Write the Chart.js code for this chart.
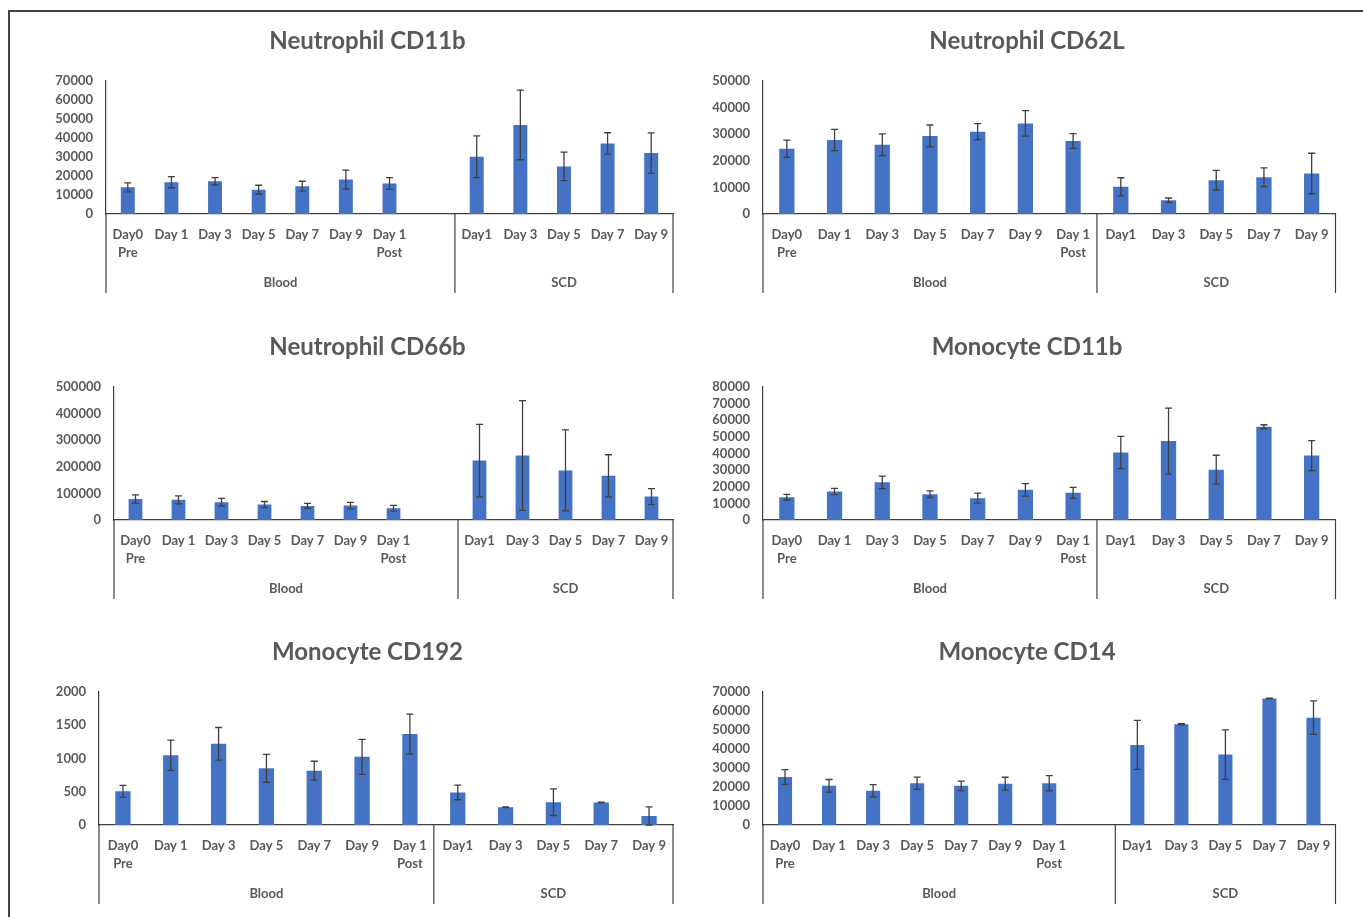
<!DOCTYPE html>
<html>
<head>
<meta charset="utf-8">
<script src="https://cdn.jsdelivr.net/npm/chart.js@4.4.1/dist/chart.umd.min.js"></script>
<style>
html, body { margin: 0; padding: 0; background: #fff; width: 1363px; height: 917px; overflow: hidden; }
#frame { position: absolute; left: 8px; top: 10px; width: 1400px; height: 1000px; border-top: 2px solid #404040; border-left: 2px solid #404040; }
canvas { position: absolute; }
</style>
</head>
<body>
<div id="frame"></div>
<canvas id="c1" width="715" height="286" style="left:10px;top:12px"></canvas>
<canvas id="c2" width="672" height="286" style="left:691px;top:12px"></canvas>
<canvas id="c3" width="715" height="286" style="left:10px;top:318px"></canvas>
<canvas id="c4" width="672" height="286" style="left:691px;top:318px"></canvas>
<canvas id="c5" width="715" height="286" style="left:10px;top:623px"></canvas>
<canvas id="c6" width="672" height="286" style="left:691px;top:623px"></canvas>
<script>
var bloodDays = [['Day0', 'Pre'], 'Day 1', 'Day 3', 'Day 5', 'Day 7', 'Day 9', ['Day 1', 'Post']];
var scdDays = ['Day1', 'Day 3', 'Day 5', 'Day 7', 'Day 9'];
var groupNames = ['Blood', 'SCD'];

// Neutrophil CD11b
var neutCD11bBlood = [14000, 16700, 17200, 12800, 14600, 18100, 16000];
var neutCD11bBloodErr = [2400, 2900, 1900, 2300, 2600, 5000, 3100];
var neutCD11bScd = [30100, 46800, 25000, 37100, 32000];
var neutCD11bScdErr = [11000, 18300, 7500, 5600, 10600];

// Neutrophil CD62L
var neutCD62LBlood = [24500, 27800, 26000, 29300, 30900, 34000, 27400];
var neutCD62LBloodErr = [3200, 4000, 4100, 4100, 3000, 4800, 2800];
var neutCD62LScd = [10200, 5200, 12700, 13800, 15200];
var neutCD62LScdErr = [3400, 800, 3700, 3500, 7600];

// Neutrophil CD66b
var neutCD66bBlood = [79000, 75600, 66800, 58000, 53000, 54000, 44000];
var neutCD66bBloodErr = [15500, 15000, 14500, 11500, 9500, 12000, 11000];
var neutCD66bScd = [223000, 242000, 186000, 166000, 88000];
var neutCD66bScdErr = [136000, 206000, 152000, 79000, 30000];

// Monocyte CD11b
var monoCD11bBlood = [13700, 17100, 22600, 15500, 13100, 18100, 16300];
var monoCD11bBloodErr = [1700, 1900, 3700, 2000, 3000, 3800, 3300];
var monoCD11bScd = [40500, 47400, 30200, 56000, 38700];
var monoCD11bScdErr = [9700, 19800, 8700, 1200, 9000];

// Monocyte CD192
var monoCD192Blood = [505, 1048, 1219, 851, 816, 1023, 1365];
var monoCD192BloodErr = [90, 227, 245, 209, 141, 262, 300];
var monoCD192Scd = [489, 267, 343, 338, 136];
var monoCD192ScdErr = [110, 5, 200, 5, 136];

// Monocyte CD14
var monoCD14Blood = [25200, 20600, 18000, 22000, 20600, 21700, 22000];
var monoCD14BloodErr = [3900, 3300, 3200, 3200, 2500, 3400, 4000];
var monoCD14Scd = [42100, 52900, 37000, 66500, 56400];
var monoCD14ScdErr = [12900, 300, 13000, 200, 8800];

var yMaxes = [70000, 50000, 500000, 80000, 2000, 70000];
var ySteps = [10000, 10000, 100000, 10000, 500, 10000];

var textColor = '#595959';
var lineColor = '#404040';

var errorBars = {
    id: 'errorBars',
    afterDatasetsDraw: function(chart) {
        var ds = chart.data.datasets[0];
        var y = chart.scales.y;
        var ctx = chart.ctx;
        ctx.save();
        ctx.strokeStyle = lineColor;
        ctx.lineWidth = 1.3;
        chart.getDatasetMeta(0).data.forEach(function(bar, i) {
            var v = ds.data[i];
            if (v === null) return;
            var e = ds.errors[i];
            var top = y.getPixelForValue(v + e);
            var bot = y.getPixelForValue(v - e);
            ctx.beginPath();
            ctx.moveTo(bar.x, top); ctx.lineTo(bar.x, bot);
            ctx.moveTo(bar.x - 3.5, top); ctx.lineTo(bar.x + 3.5, top);
            ctx.moveTo(bar.x - 3.5, bot); ctx.lineTo(bar.x + 3.5, bot);
            ctx.stroke();
        });
        ctx.restore();
    }
};

// second level of the x axis: Blood / SCD with separator lines
var groupAxis = {
    id: 'groupAxis',
    afterDraw: function(chart) {
        var x = chart.scales.x;
        var ctx = chart.ctx;
        var n = chart.options.plugins.groupAxis.split;
        var left = chart.chartArea.left;
        var right = chart.chartArea.right;
        var sep = (x.getPixelForValue(n - 1) + x.getPixelForValue(n)) / 2;
        ctx.save();
        ctx.strokeStyle = lineColor;
        ctx.lineWidth = 1.2;
        [left, sep, right].forEach(function(px) {
            ctx.beginPath();
            ctx.moveTo(px, x.top);
            ctx.lineTo(px, x.bottom);
            ctx.stroke();
        });
        ctx.fillStyle = textColor;
        ctx.font = 'bold 13px Lato';
        ctx.textAlign = 'center';
        ctx.textBaseline = 'middle';
        ctx.fillText(groupNames[0], (left + sep) / 2, x.top + 68.5);
        ctx.fillText(groupNames[1], (sep + right) / 2, x.top + 68.5);
        ctx.restore();
    }
};

function makeChart(id, title, blood, bloodErr, scd, scdErr, gap, k, yWidth, rightWidth) {
    var gapLabel = gap ? [''] : [];
    var gapVal = gap ? [null] : [];
    var labels = bloodDays.concat(gapLabel, scdDays);
    var values = blood.concat(gapVal, scd);
    var errs = bloodErr.concat(gapVal, scdErr);
    new Chart(document.getElementById(id), {
        type: 'bar',
        data: {
            labels: labels,
            datasets: [{
                data: values,
                errors: errs,
                backgroundColor: '#4472C4',
                barPercentage: 0.32,
                categoryPercentage: 1
            }]
        },
        options: {
            responsive: false,
            animation: false,
            layout: { padding: { left: 0, right: 0, top: 0, bottom: 5 } },
            plugins: {
                legend: { display: false },
                tooltip: { enabled: false },
                title: {
                    display: true,
                    text: title,
                    color: textColor,
                    font: { family: 'Lato', size: 24, weight: 'bold', lineHeight: 1.2 },
                    padding: { top: 15, bottom: 25 }
                },
                groupAxis: { split: bloodDays.length + gapLabel.length }
            },
            scales: {
                x: {
                    grid: { display: false, drawTicks: false },
                    border: { display: true, color: lineColor, width: 1.2 },
                    ticks: {
                        color: textColor,
                        font: { family: 'Lato', size: 13, weight: 'bold', lineHeight: 1.45 },
                        padding: 11,
                        maxRotation: 0,
                        autoSkip: false
                    },
                    afterFit: function(s) { s.height = 79; }
                },
                y: {
                    min: 0,
                    max: yMaxes[k],
                    grid: { display: false, drawTicks: false },
                    border: { display: true, color: lineColor, width: 1.2 },
                    ticks: {
                        stepSize: ySteps[k],
                        color: textColor,
                        autoSkip: false,
                        font: { family: 'Lato', size: 13, weight: 'bold' },
                        padding: 13,
                        callback: function(v) { return String(v); }
                    },
                    afterFit: function(s) { s.width = yWidth; }
                },
                // empty spacer on the right so the title stays centred on the whole panel
                yR: {
                    position: 'right',
                    grid: { display: false, drawTicks: false },
                    border: { display: false },
                    ticks: { display: false },
                    afterFit: function(s) { s.width = rightWidth; }
                }
            }
        },
        plugins: [errorBars, groupAxis]
    });
}

makeChart('c1', 'Neutrophil CD11b', neutCD11bBlood, neutCD11bBloodErr, neutCD11bScd, neutCD11bScdErr, true, 0, 96, 52);
makeChart('c2', 'Neutrophil CD62L', neutCD62LBlood, neutCD62LBloodErr, neutCD62LScd, neutCD62LScdErr, false, 1, 72, 27.5);
makeChart('c3', 'Neutrophil CD66b', neutCD66bBlood, neutCD66bBloodErr, neutCD66bScd, neutCD66bScdErr, true, 2, 104, 52);
makeChart('c4', 'Monocyte CD11b', monoCD11bBlood, monoCD11bBloodErr, monoCD11bScd, monoCD11bScdErr, false, 3, 72, 27.5);
makeChart('c5', 'Monocyte CD192', monoCD192Blood, monoCD192BloodErr, monoCD192Scd, monoCD192ScdErr, false, 4, 89, 52);
makeChart('c6', 'Monocyte CD14', monoCD14Blood, monoCD14BloodErr, monoCD14Scd, monoCD14ScdErr, true, 5, 72, 27.5);
</script>
</body>
</html>
